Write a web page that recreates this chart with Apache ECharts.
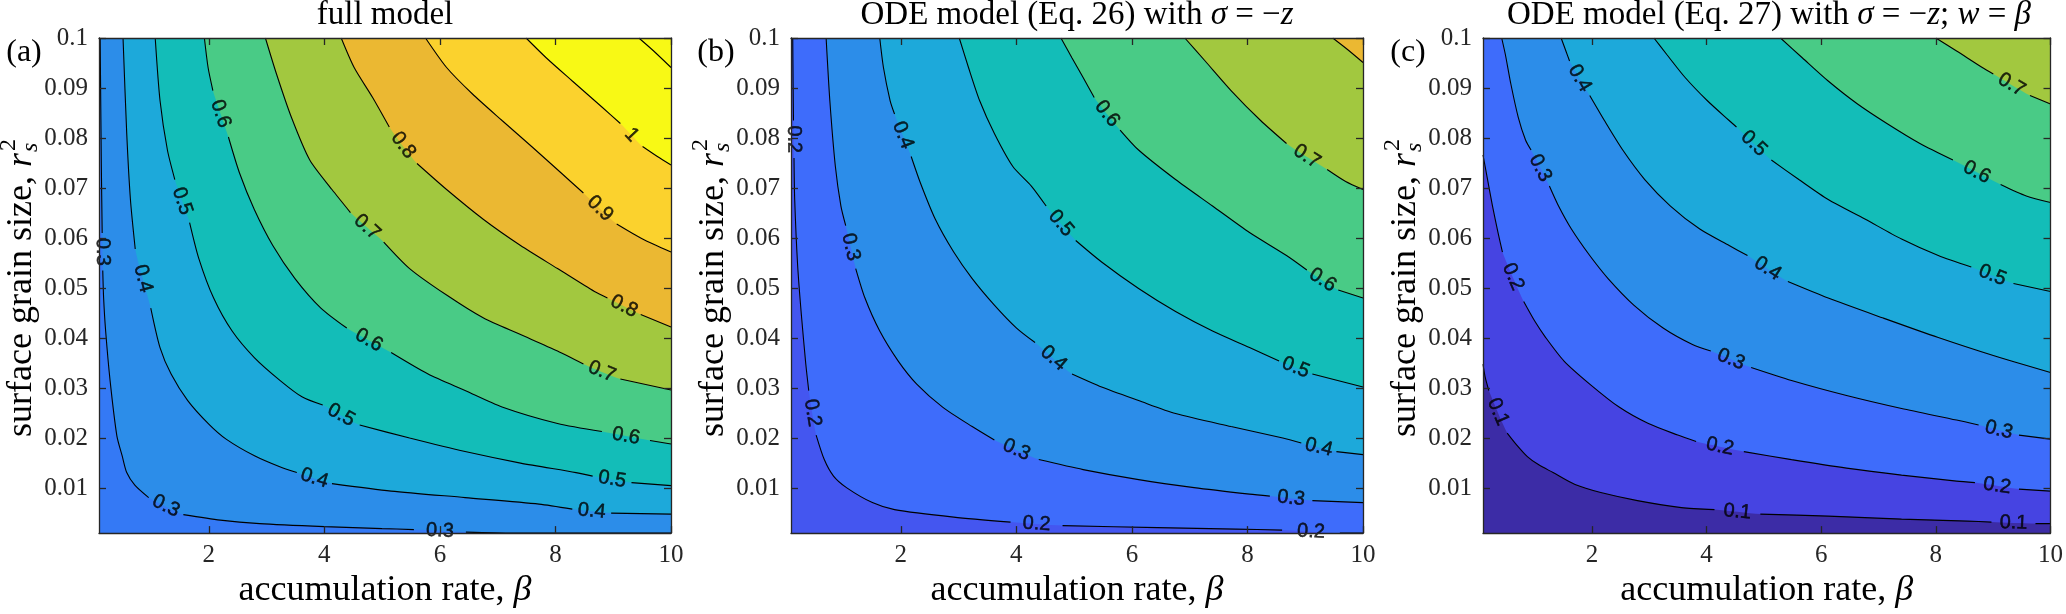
<!DOCTYPE html>
<html><head><meta charset="utf-8">
<script src="https://cdn.jsdelivr.net/npm/echarts@6/dist/echarts.min.js"></script>
<style>html,body{margin:0;padding:0;background:#fff}#c{width:2066px;height:614px}</style>
</head><body><div id="c"></div>
<script>
// ---------------- data (beta, r_s^2); null = label gap ----------------
const xTicks = [2, 4, 6, 8, 10];
const yTicks = [0.01, 0.02, 0.03, 0.04, 0.05, 0.06, 0.07, 0.08, 0.09, 0.1];

// (a) full model
const levelsA = [0.3, 0.4, 0.5, 0.6, 0.7, 0.8, 0.9, 1.0, 1.1];
const A03 = [[0.12,0.1],[0.14,0.075],[0.155,0.061],null,[0.165,0.0535],[0.18,0.048],[0.215,0.0414],[0.292,0.0315],[0.41,0.0204],[0.5,0.0165],[0.58,0.0131],[0.72,0.0106],[0.96,0.0081],null,[1.56,0.0047],[2.2,0.0036],[2.88,0.0029],[4.0,0.0023],[5.0,0.0019],[5.55,0.0017],null,[6.45,0.0012],[7.27,0.001],[10,0.001]];
const A04 = [[0.516,0.1],[0.58,0.0809],[0.644,0.0677],[0.727,0.0578],null,[0.996,0.046],[1.156,0.0381],[1.348,0.0328],[1.636,0.0275],[2.0,0.0228],[2.3,0.0198],[2.8,0.0164],[3.24,0.0142],[3.524,0.0131],null,[4.132,0.0109],[5.156,0.0094],[6.436,0.0081],[7.716,0.0068],[8.292,0.0058],null,[8.964,0.005],[10,0.0048]];
const A05 = [[1.073,0.1],[1.156,0.0875],[1.284,0.0776],[1.412,0.0717],null,[1.668,0.0631],[1.828,0.0559],[2.084,0.048],[2.404,0.0414],[2.788,0.0361],[3.236,0.0315],[3.62,0.0282],[3.972,0.0266],null,[4.612,0.0226],[5.476,0.02],[6.436,0.0173],[7.396,0.015],[8.356,0.0131],[8.644,0.0124],null,[9.316,0.0111],[10,0.0105]];
const A06 = [[1.924,0.1],[1.988,0.0941],[2.071,0.0895],null,[2.34,0.0802],[2.532,0.073],[2.788,0.0657],[3.108,0.0585],[3.492,0.0519],[3.94,0.046],[4.388,0.042],null,[5.156,0.0371],[5.796,0.0328],[6.436,0.0295],[7.076,0.0262],[8.036,0.0229],[8.804,0.0213],null,[9.636,0.0195],[10,0.0188]];
const A07 = [[2.98,0.1],[3.172,0.0928],[3.428,0.0842],[3.748,0.0756],[4.132,0.0697],[4.452,0.0651],null,[5.028,0.0592],[5.476,0.0539],[6.116,0.0486],[6.756,0.044],[7.396,0.0407],[8.036,0.0374],[8.484,0.0348],null,[9.124,0.0318],[10,0.0296]];
const A08 = [[4.292,0.1],[4.516,0.0941],[4.836,0.0881],[5.124,0.0822],null,[5.604,0.0749],[6.116,0.0697],[6.756,0.0637],[7.396,0.0585],[8.036,0.0539],[8.676,0.0493],[8.9,0.048],null,[9.476,0.0447],[10,0.0422]];
const A09 = [[5.751,0.1],[6.116,0.0941],[6.564,0.0888],[7.076,0.0835],[7.588,0.0783],[8.1,0.073],[8.484,0.069],null,[9.06,0.0628],[9.508,0.0598],[10,0.0572]];
const A10 = [[7.492,0.1],[7.844,0.096],[8.292,0.0914],[8.804,0.0862],[9.124,0.0829],null,[9.508,0.0783],[9.764,0.0763],[10,0.0746]];
const A11 = [[9.444,0.1],[9.7,0.0974],[10,0.0941]];

// (b) ODE model (Eq. 26)
const levelsB = [0.2, 0.3, 0.4, 0.5, 0.6, 0.7, 0.8];
const B02 = [[0.13,0.1],[0.137,0.09],[0.143,0.0835],null,[0.152,0.076],[0.164,0.0677],[0.215,0.0545],[0.279,0.0447],[0.356,0.0348],[0.407,0.0295],null,[0.535,0.0206],[0.676,0.0157],[0.836,0.0124],[1.06,0.0101],[1.508,0.0071],[1.892,0.0057],[2.916,0.0042],[3.9,0.0032],null,[4.8,0.0025],[6.44,0.0021],[7.8,0.0018],[8.6,0.0016],null,[9.6,0.001],[10,0.001]];
const B03 = [[0.708,0.1],[0.772,0.0875],[0.868,0.0743],[0.964,0.0664],[1.047,0.0625],null,[1.22,0.0539],[1.38,0.048],[1.636,0.0414],[1.956,0.0354],[2.276,0.0308],[2.724,0.0262],[3.236,0.0223],[3.62,0.0196],null,[4.388,0.0157],[5.156,0.0137],[6.116,0.0117],[7.076,0.0101],[8.036,0.0088],[8.388,0.0084],null,[9.124,0.0075],[10,0.0071]];
const B04 = [[1.636,0.1],[1.7,0.0941],[1.815,0.0875],[1.892,0.0848],null,[2.18,0.0763],[2.34,0.071],[2.596,0.0638],[2.916,0.0572],[3.236,0.0519],[3.62,0.0466],[4.004,0.042],[4.324,0.0391],null,[4.964,0.0328],[5.476,0.0302],[6.116,0.0275],[6.756,0.0249],[7.716,0.0223],[8.612,0.02],[8.932,0.019],null,[9.54,0.0173],[10,0.0167]];
const B05 = [[3.012,0.1],[3.172,0.0941],[3.364,0.0875],[3.62,0.0809],[3.94,0.0743],[4.26,0.0704],[4.516,0.0664],null,[5.028,0.0595],[5.476,0.0552],[6.116,0.0499],[6.756,0.0453],[7.396,0.0414],[8.036,0.0381],[8.548,0.0354],null,[9.124,0.0328],[10,0.0302]];
const B06 = [[4.772,0.1],[4.964,0.096],[5.156,0.0921],[5.348,0.0881],null,[5.796,0.0816],[6.116,0.0776],[6.756,0.0717],[7.396,0.0664],[8.036,0.0611],[8.676,0.0565],[9.028,0.0536],null,[9.572,0.0496],[10,0.048]];
const B07 = [[6.916,0.1],[7.268,0.0954],[7.716,0.0895],[8.228,0.0835],[8.676,0.0789],null,[9.38,0.0737],[9.7,0.0713],[10,0.0697]];
const B08 = [[9.476,0.1],[9.732,0.0977],[10,0.0951]];

// (c) ODE model (Eq. 27)
const levelsC = [0.1, 0.2, 0.3, 0.4, 0.5, 0.6, 0.7];
const C01 = [[0.1,0.0348],[0.138,0.0322],[0.202,0.0295],null,[0.522,0.021],[0.682,0.0187],[0.874,0.0163],[1.066,0.0147],[1.322,0.0131],[1.706,0.0107],[2.154,0.0091],[2.794,0.0075],[3.562,0.0061],[4.138,0.0057],null,[4.938,0.0048],[6.122,0.0044],[7.402,0.0038],[8.554,0.0034],[8.97,0.0032],null,[9.738,0.0029],[10,0.0029]];
const C02 = [[0.1,0.0766],[0.17,0.0723],[0.266,0.0664],[0.362,0.0611],[0.439,0.0572],null,[0.81,0.0473],[1.002,0.0434],[1.194,0.0401],[1.514,0.0354],[1.962,0.0308],[2.474,0.0262],[2.986,0.0229],[3.498,0.0206],[3.818,0.0193],null,[4.65,0.0173],[5.482,0.0157],[6.442,0.014],[7.402,0.0126],[8.362,0.0114],[8.682,0.0111],null,[9.45,0.0098],[10,0.0094]];
const C03 = [[0.426,0.1],[0.49,0.0967],[0.586,0.0908],[0.714,0.0842],[0.842,0.0796],[0.938,0.0776],null,[1.258,0.0704],[1.418,0.0664],[1.642,0.0618],[1.962,0.0565],[2.282,0.0519],[2.73,0.0466],[3.242,0.042],[3.754,0.0387],[4.074,0.0374],null,[4.778,0.0341],[5.482,0.0315],[6.442,0.0285],[7.402,0.0259],[8.362,0.0236],[8.746,0.0226],null,[9.45,0.0206],[10,0.0198]];
const C04 = [[1.463,0.1],[1.546,0.0974],[1.61,0.0954],null,[1.962,0.0885],[2.218,0.0835],[2.538,0.0776],[2.922,0.0717],[3.37,0.0664],[3.882,0.0618],[4.394,0.0585],[4.714,0.0565],null,[5.418,0.0513],[6.122,0.048],[7.082,0.044],[8.042,0.0401],[9.002,0.0365],[10,0.0331]];
const C05 = [[3.082,0.1],[3.306,0.0967],[3.626,0.0921],[4.01,0.0875],[4.394,0.0835],[4.522,0.0822],null,[5.13,0.0756],[5.61,0.0717],[6.122,0.0677],[6.762,0.0638],[7.402,0.0598],[8.042,0.0565],[8.618,0.0542],null,[9.354,0.0509],[10,0.0493]];
const C06 = [[5.29,0.1],[5.674,0.096],[6.122,0.0914],[6.634,0.0868],[7.146,0.0829],[7.722,0.0789],[8.298,0.0756],null,[9.13,0.0707],[9.578,0.0684],[10,0.0671]];
const C07 = [[8.0,0.1],[8.362,0.0974],[8.81,0.0941],[9.002,0.0928],null,[9.642,0.0885],[10,0.0868]];

// ---------------- style ----------------
const SERIF = '"Liberation Serif","Times New Roman",serif';
const SANS = '"Liberation Sans",Arial,Helvetica,sans-serif';
const AXIS_COLOR = '#262626';
const X_MIN = 0.1, X_MAX = 10, Y_MIN = 0.001, Y_MAX = 0.1;
const GRID_LEFT0 = 99, GRID_DX = 692, GRID_TOP = 38, GRID_W = 572, GRID_H = 501;
// parula-like band colours (colour of the band above each level)
const bandColor = {0.1:'#4644E2',0.2:'#3E6CFB',0.3:'#2C8DE9',0.4:'#1DA9DA',0.5:'#13BDB8',0.6:'#49CB86',0.7:'#A2C83F',0.8:'#EBB832',0.9:'#FBD22D',1.0:'#F8F915',1.1:'#F8F915'};

const panels = [
  {levels: levelsA, lines: [A03,A04,A05,A06,A07,A08,A09,A10,A11], base: '#3479F5',
   title: '{n|full model}', letter: '(a)'},
  {levels: levelsB, lines: [B02,B03,B04,B05,B06,B07,B08], base: '#4456F0',
   title: '{n|ODE model (Eq. 26) with }{i|σ}{n| = −}{i|z}', letter: '(b)'},
  {levels: levelsC, lines: [C01,C02,C03,C04,C05,C06,C07], base: '#3C2CA6',
   title: '{n|ODE model (Eq. 27) with }{i|σ}{n| = −}{i|z}{n|; }{i|w}{n| = }{i|β}', letter: '(c)'}
];

function toPx(i, p) {
  return [GRID_LEFT0 + i * GRID_DX + (p[0] - X_MIN) / (X_MAX - X_MIN) * GRID_W,
          GRID_TOP + (Y_MAX - p[1]) / (Y_MAX - Y_MIN) * GRID_H];
}

const grid = [], xAxis = [], yAxis = [], series = [], graphic = [];
const tickStyle = {color: AXIS_COLOR, width: 1.3};

panels.forEach((p, i) => {
  const left = GRID_LEFT0 + i * GRID_DX;
  grid.push({left: left, top: GRID_TOP, width: GRID_W, height: GRID_H, show: true,
             backgroundColor: p.base, borderWidth: 0, containLabel: false});
  const xCommon = {type: 'value', gridIndex: i, min: X_MIN, max: X_MAX, z: 10,
    splitLine: {show: false},
    axisLine: {show: true, onZero: false, lineStyle: tickStyle},
    axisTick: {show: true, inside: true, length: 7, customValues: xTicks, lineStyle: tickStyle}};
  xAxis.push(Object.assign({}, xCommon, {position: 'bottom',
    axisLabel: {show: true, customValues: xTicks, margin: 10, fontFamily: SERIF, fontSize: 25, color: AXIS_COLOR},
    name: '{n|accumulation rate, }{i|β}', nameLocation: 'middle', nameGap: 37,
    nameTextStyle: {fontFamily: SERIF, fontSize: 36, color: '#000',
      rich: {n: {fontFamily: SERIF, fontSize: 36, color: '#000'},
             i: {fontFamily: SERIF, fontSize: 36, fontStyle: 'italic', color: '#000'}}}}));
  xAxis.push(Object.assign({}, xCommon, {position: 'top', axisLabel: {show: false}}));
  const yCommon = {type: 'value', gridIndex: i, min: Y_MIN, max: Y_MAX, z: 10,
    splitLine: {show: false},
    axisLine: {show: true, onZero: false, lineStyle: tickStyle},
    axisTick: {show: true, inside: true, length: 7, customValues: yTicks, lineStyle: tickStyle}};
  yAxis.push(Object.assign({}, yCommon, {position: 'left',
    axisLabel: {show: true, customValues: yTicks, margin: 11, fontFamily: SERIF, fontSize: 25, color: AXIS_COLOR}}));
  yAxis.push(Object.assign({}, yCommon, {position: 'right', axisLabel: {show: false}}));

  const xi = 2 * i, yi = 2 * i;
  // filled bands
  p.levels.forEach((lv, j) => {
    const pts = p.lines[j];
    series.push({type: 'line', xAxisIndex: xi, yAxisIndex: yi, silent: true, animation: false,
      data: pts.filter(q => q !== null), smooth: 0.25, symbol: 'none', showSymbol: false,
      lineStyle: {width: 0, opacity: 0},
      areaStyle: {origin: 'end', color: bandColor[lv], opacity: 1}, z: 2});
  });
  // contour strokes
  p.levels.forEach((lv, j) => {
    const pts = p.lines[j];
    series.push({type: 'line', xAxisIndex: xi, yAxisIndex: yi, silent: true, animation: false,
      data: pts.map(q => q === null ? ['-', '-'] : q), connectNulls: false,
      smooth: 0.25, symbol: 'none', showSymbol: false,
      lineStyle: {color: '#000', width: 1.1}, z: 3});
  });
  // contour labels, placed in each gap of the contour
  const labelData = [];
  p.levels.forEach((lv, j) => {
    const pts = p.lines[j];
    for (let k = 1; k < pts.length - 1; k++) {
      if (pts[k] !== null) continue;
      const a = pts[k - 1], b = pts[k + 1];
      const pa = toPx(i, a), pb = toPx(i, b);
      let ang = Math.atan2(-(pb[1] - pa[1]), pb[0] - pa[0]) * 180 / Math.PI;
      if (ang > 90) ang -= 180;
      if (ang < -90) ang += 180;
      labelData.push({value: [(a[0] + b[0]) / 2, (a[1] + b[1]) / 2],
        label: {formatter: String(lv), rotate: ang}});
    }
  });
  series.push({type: 'scatter', xAxisIndex: xi, yAxisIndex: yi, silent: true, animation: false,
    symbolSize: 1, itemStyle: {color: 'rgba(0,0,0,0)'}, clip: false, z: 4,
    label: {show: true, position: 'inside', fontFamily: SANS, fontSize: 20, color: '#000',
            textBorderColor: '#000', textBorderWidth: 0.5},
    data: labelData});

  // title
  graphic.push({type: 'text', x: left + GRID_W / 2, y: 15, silent: true,
    style: {text: p.title, fontFamily: SERIF, fontSize: 33, fill: '#000', align: 'center', verticalAlign: 'middle',
      rich: {n: {fontFamily: SERIF, fontSize: 33, fill: '#000'},
             i: {fontFamily: SERIF, fontSize: 33, fontStyle: 'italic', fill: '#000'}}}});
  // panel letter
  graphic.push({type: 'text', x: left - 75, y: 53, silent: true,
    style: {text: p.letter, fontFamily: SERIF, fontSize: 32, fill: '#000', align: 'center', verticalAlign: 'middle'}});
});

// y-axis names (rotated), built with measured widths
const ctx = document.createElement('canvas').getContext('2d');
function tw(t, size, italic) { ctx.font = (italic ? 'italic ' : '') + size + 'px ' + SERIF; return ctx.measureText(t).width; }
const yMain = 'surface grain size, ';
const w1 = tw(yMain, 36), wr = tw('r', 36, true), ws = Math.max(tw('s', 24, true), tw('2', 24));
const Wy = w1 + wr + 1 + ws;
panels.forEach((p, i) => {
  const left = GRID_LEFT0 + i * GRID_DX;
  const x0 = -Wy / 2;
  graphic.push({type: 'group', x: left - 77, y: GRID_TOP + GRID_H / 2, rotation: Math.PI / 2, silent: true,
    children: [
      {type: 'text', x: x0, y: 0, style: {text: yMain, fontFamily: SERIF, fontSize: 36, fill: '#000', align: 'left', verticalAlign: 'middle'}},
      {type: 'text', x: x0 + w1, y: 0, style: {text: 'r', fontFamily: SERIF, fontSize: 36, fontStyle: 'italic', fill: '#000', align: 'left', verticalAlign: 'middle'}},
      {type: 'text', x: x0 + w1 + wr + 1, y: 9, style: {text: 's', fontFamily: SERIF, fontSize: 24, fontStyle: 'italic', fill: '#000', align: 'left', verticalAlign: 'middle'}},
      {type: 'text', x: x0 + w1 + wr + 2, y: -13, style: {text: '2', fontFamily: SERIF, fontSize: 24, fill: '#000', align: 'left', verticalAlign: 'middle'}}
    ]});
});

const chart = echarts.init(document.getElementById('c'), null, {renderer: 'canvas'});
chart.setOption({animation: false, backgroundColor: '#fff', grid, xAxis, yAxis, series, graphic});
</script></body></html>
